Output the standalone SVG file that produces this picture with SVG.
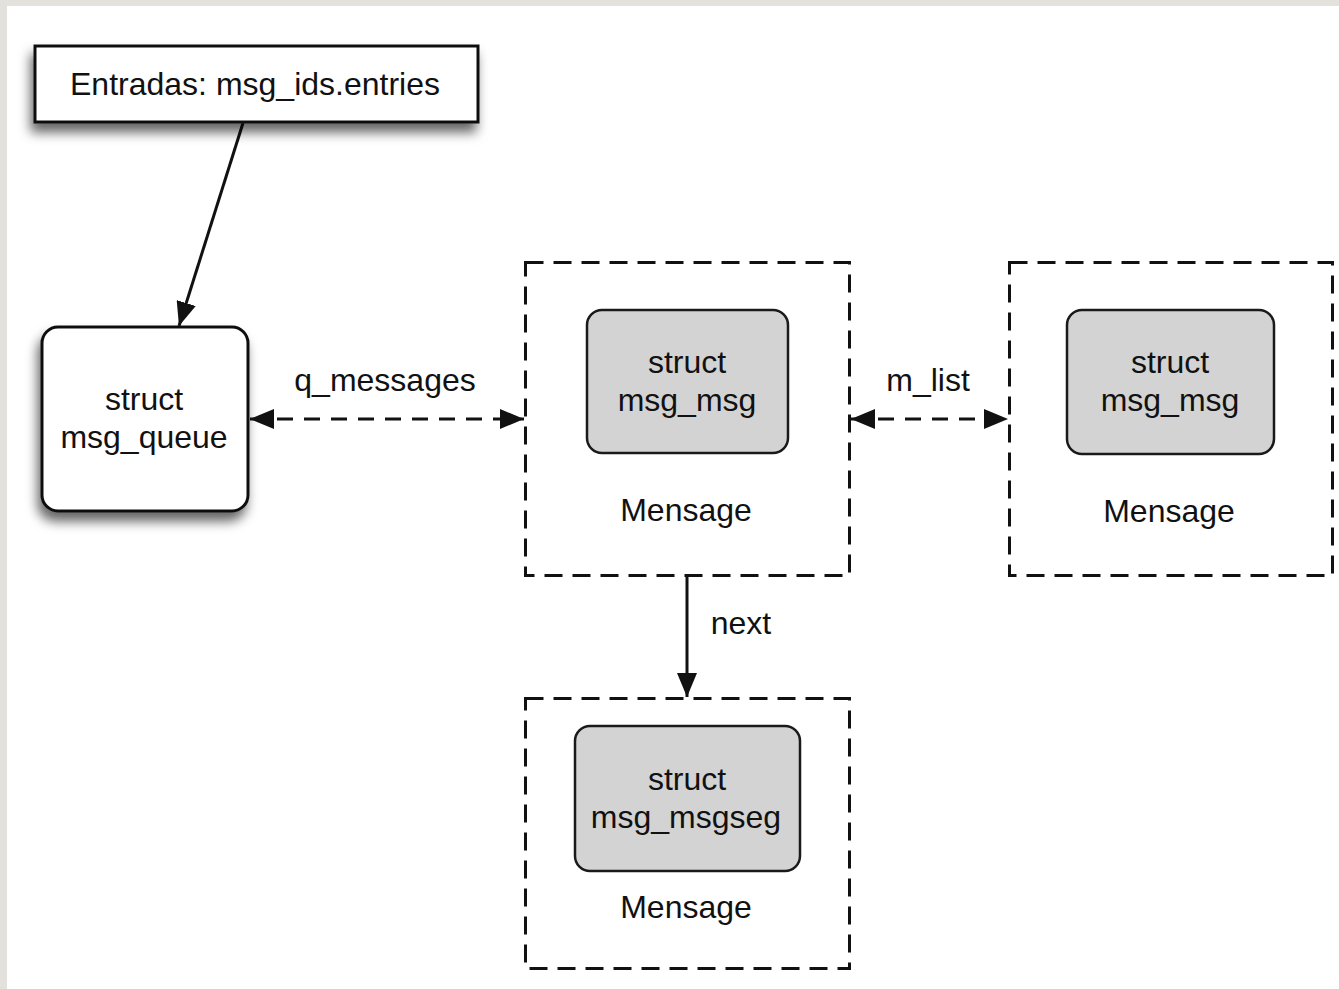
<svg xmlns="http://www.w3.org/2000/svg" width="1339" height="989" viewBox="0 0 1339 989">
  <style>
    text { font-family: "Liberation Sans", Arial, sans-serif; font-size: 32px; fill: #111; text-anchor: middle; }
    .solid { fill: #fff; stroke: #111; stroke-width: 3; }
    .inner { fill: #d3d3d3; stroke: #1a1a1a; stroke-width: 2.5; }
    .group { fill: none; stroke: #111; stroke-width: 3; stroke-dasharray: 18 10; }
    .edge { fill: none; stroke: #111; stroke-width: 3; }
    .dash { stroke-dasharray: 16 11; }
  </style>
  <defs>
    <filter id="shadow" x="-20%" y="-20%" width="140%" height="160%">
      <feDropShadow dx="-3" dy="9" stdDeviation="6" flood-color="#000" flood-opacity="0.6"/>
    </filter>
    <marker id="head" viewBox="0 0 24 20" refX="24" refY="10" markerWidth="24" markerHeight="20" markerUnits="userSpaceOnUse" orient="auto-start-reverse">
      <path d="M0,0 L24,10 L0,20 Z" fill="#111"/>
    </marker>
  </defs>

  <!-- page background with textured edges -->
  <rect x="0" y="0" width="1339" height="989" fill="#fff"/>
  <rect x="0" y="0" width="1339" height="6" fill="#e4e2dc"/>
  <rect x="0" y="0" width="7" height="989" fill="#e2e1dc"/>

  <!-- connectors -->
  <g id="connectors">
    <line class="edge" x1="243" y1="123" x2="179" y2="326" marker-end="url(#head)"/>
    <line class="edge dash" x1="250" y1="419" x2="524" y2="419" marker-start="url(#head)" marker-end="url(#head)"/>
    <text x="385" y="391">q_messages</text>
    <line class="edge dash" x1="851" y1="419" x2="1008" y2="419" marker-start="url(#head)" marker-end="url(#head)"/>
    <text x="928" y="391">m_list</text>
    <line class="edge" x1="687" y1="577" x2="687" y2="697" marker-end="url(#head)"/>
    <text x="741" y="634">next</text>
  </g>

  <!-- entry table -->
  <g id="entradas">
    <rect class="solid" x="35" y="46" width="443" height="76" filter="url(#shadow)"/>
    <text x="255" y="95">Entradas: msg_ids.entries</text>
  </g>

  <!-- queue header -->
  <g id="msg_queue">
    <rect class="solid" x="42" y="327" width="206" height="184" rx="16" filter="url(#shadow)"/>
    <text x="144" y="410">struct</text>
    <text x="144" y="448">msg_queue</text>
  </g>

  <!-- first message -->
  <g id="mensage1">
    <rect class="group" x="525.5" y="262.5" width="324" height="313"/>
    <rect class="inner" x="587" y="310" width="201" height="143" rx="15"/>
    <text x="687" y="373">struct</text>
    <text x="687" y="411">msg_msg</text>
    <text x="686" y="521">Mensage</text>
  </g>

  <!-- second message -->
  <g id="mensage2">
    <rect class="group" x="1009.5" y="262.5" width="323" height="313"/>
    <rect class="inner" x="1067" y="310" width="207" height="144" rx="15"/>
    <text x="1170" y="373">struct</text>
    <text x="1170" y="411">msg_msg</text>
    <text x="1169" y="522">Mensage</text>
  </g>

  <!-- message segment -->
  <g id="mensage3">
    <rect class="group" x="525.5" y="698.5" width="324" height="270"/>
    <rect class="inner" x="575" y="726" width="225" height="145" rx="15"/>
    <text x="687" y="790">struct</text>
    <text x="686" y="828">msg_msgseg</text>
    <text x="686" y="918">Mensage</text>
  </g>
</svg>
